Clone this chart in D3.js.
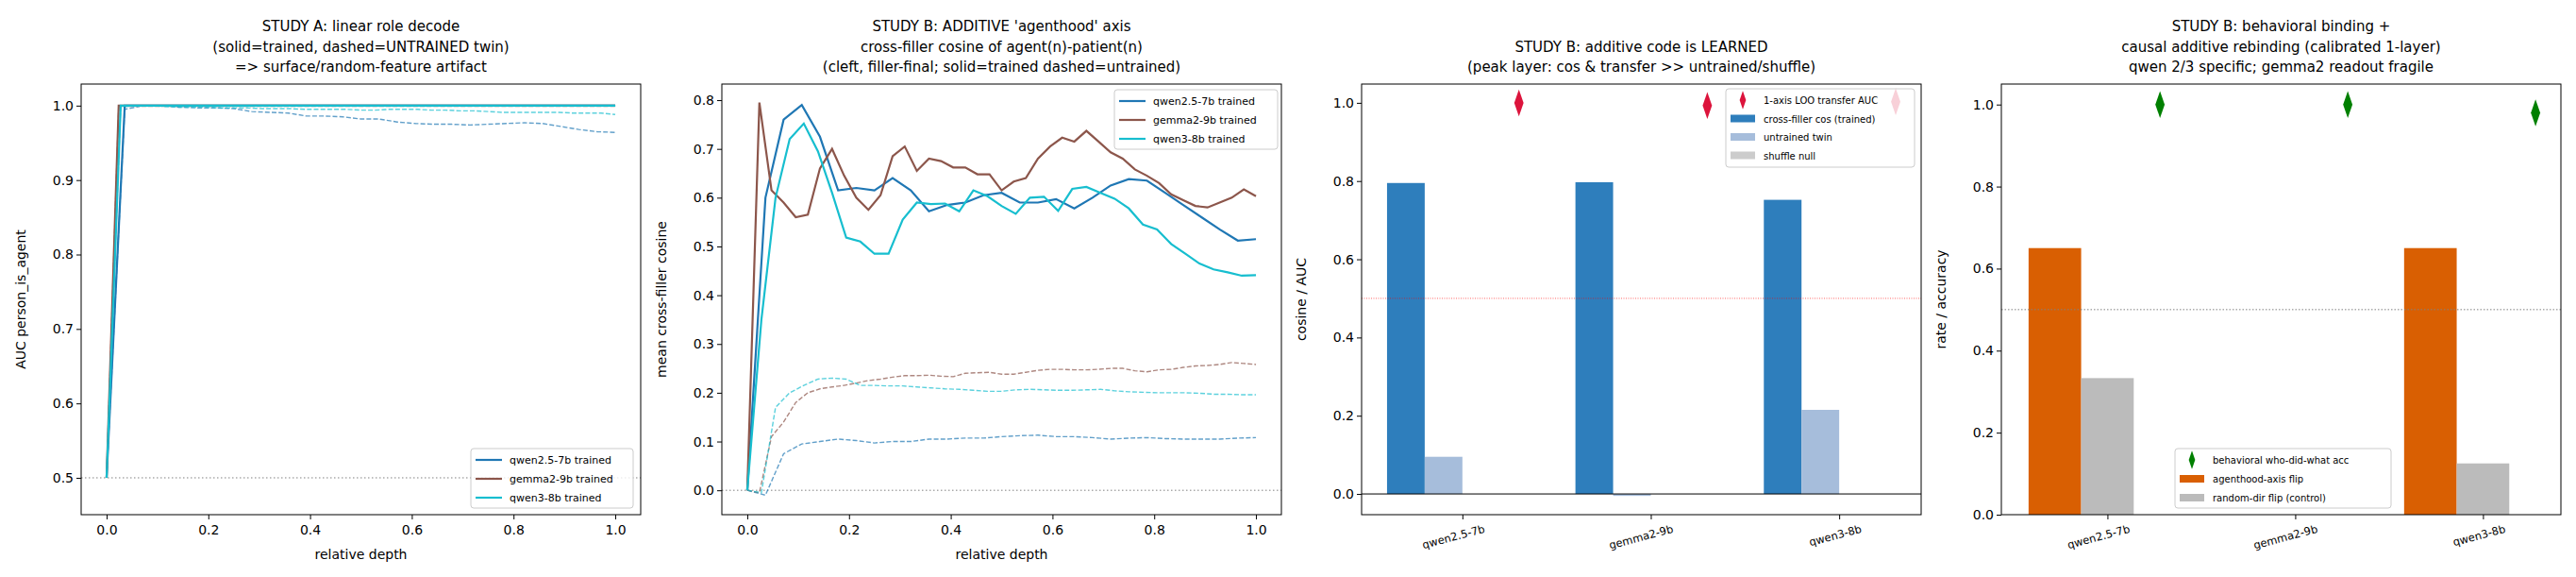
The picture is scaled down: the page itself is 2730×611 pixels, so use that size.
<!DOCTYPE html>
<html><head><meta charset="utf-8">
<script src="https://cdn.jsdelivr.net/npm/d3@7"></script>
<style>body{margin:0;background:#fff;font-family:"DejaVu Sans",sans-serif}</style>
</head><body><svg id="canvas" width="2730" height="611"></svg>
<script>
// ---- data ----
let models = ['qwen2.5-7b', 'gemma2-9b', 'qwen3-8b']
let lineColors = ['#1f77b4', '#8c564b', '#17becf']
let nLayers = [28, 42, 36]

// study A: AUC per layer
let aucTrained = [
  [0.5].concat(Array(28).fill(1.0)),
  [0.5].concat(Array(42).fill(1.0)),
  [0.5].concat(Array(36).fill(1.0))
]
let aucUntrained = [
  [0.5,0.995,1.0,1.0,0.998,0.997,0.997,0.996,0.992,0.991,0.99,0.986,0.986,0.985,0.982,0.982,0.978,0.976,0.975,0.975,0.974,0.975,0.976,0.977,0.976,0.972,0.968,0.965,0.964],
  [0.5].concat(Array(42).fill(0.999)),
  [0.5,0.998,1.0,1.0,0.999,0.998,0.998,0.998,0.997,0.997,0.997,0.996,0.996,0.996,0.995,0.995,0.995,0.995,0.994,0.994,0.995,0.995,0.995,0.994,0.994,0.993,0.993,0.992,0.991,0.991,0.991,0.991,0.991,0.99,0.99,0.99,0.988]
]

// study B: cross-filler cosine per layer
let cosTrained = [
  [0,0.60,0.76,0.79,0.725,0.615,0.62,0.615,0.64,0.615,0.572,0.585,0.59,0.605,0.61,0.59,0.59,0.597,0.578,0.6,0.625,0.638,0.635,0.61,0.585,0.56,0.535,0.512,0.515],
  [0,0.795,0.615,0.59,0.56,0.565,0.66,0.70,0.645,0.60,0.575,0.605,0.685,0.705,0.655,0.68,0.675,0.662,0.662,0.648,0.648,0.615,0.633,0.64,0.68,0.705,0.723,0.715,0.737,0.715,0.693,0.68,0.658,0.645,0.63,0.607,0.595,0.583,0.58,0.59,0.60,0.617,0.603],
  [0,0.35,0.60,0.72,0.752,0.695,0.61,0.518,0.51,0.485,0.485,0.555,0.59,0.587,0.588,0.572,0.615,0.603,0.583,0.567,0.6,0.602,0.573,0.618,0.622,0.61,0.598,0.578,0.545,0.535,0.505,0.485,0.465,0.453,0.447,0.44,0.441]
]
let cosUntrained = [
  [0,-0.01,0.075,0.095,0.1,0.105,0.102,0.097,0.1,0.1,0.105,0.105,0.107,0.107,0.11,0.112,0.113,0.11,0.11,0.108,0.105,0.107,0.108,0.106,0.105,0.105,0.105,0.107,0.108],
  [0,-0.005,0.11,0.14,0.18,0.2,0.208,0.212,0.215,0.22,0.225,0.228,0.232,0.235,0.235,0.236,0.234,0.233,0.24,0.241,0.242,0.238,0.238,0.242,0.246,0.248,0.248,0.247,0.247,0.248,0.25,0.25,0.245,0.243,0.247,0.248,0.252,0.255,0.256,0.258,0.262,0.26,0.258],
  [0,-0.005,0.17,0.2,0.215,0.228,0.23,0.228,0.215,0.215,0.214,0.214,0.212,0.21,0.208,0.207,0.205,0.203,0.203,0.206,0.207,0.206,0.205,0.205,0.206,0.207,0.204,0.202,0.201,0.2,0.2,0.2,0.199,0.197,0.197,0.196,0.196]
]

// study B peak layer
let peakCosTrained = [0.795, 0.797, 0.752]
let peakCosUntrained = [0.095, -0.005, 0.215]
let peakShuffle = [0.0, 0.0, 0.0]
let looTransfer = [1.0, 0.993, 1.003]

// study B behavioral
let axisFlip = [0.65, 0.0, 0.65]
let randomFlip = [0.333, 0.0, 0.125]
let behavAcc = [1.0, 1.0, 0.98]

// ---- drawing ----
let canvas = d3.select('#canvas')
let plotTop = 89, plotBottom = 545, W = 593
let lefts = [86, 765, 1443, 2121]

let frame = (g, x0, x1) => {
  g.append('rect').attr('x', x0).attr('y', plotTop).attr('width', x1 - x0).attr('height', plotBottom - plotTop)
   .attr('fill', 'none').attr('stroke', '#000').attr('stroke-width', 1)
}
let title = (g, cx, lines) => {
  let t = g.append('text').attr('text-anchor', 'middle').attr('font-size', 15)
  let start = 71 - (lines.length - 1) * 21.5
  lines.forEach((l, i) => t.append('tspan').attr('x', cx).attr('y', start + i * 21.5 + 5).text(l))
}
let yAxis = (g, x, y, ticks, fmt, label) => {
  let a = g.append('g').attr('transform', `translate(${x},0)`)
   .call(d3.axisLeft(y).tickValues(ticks).tickFormat(fmt).tickSizeOuter(0).tickSize(5))
  a.select('.domain').remove()
  a.selectAll('text').attr('font-size', 14).attr('font-family', 'DejaVu Sans')
  g.append('text').attr('transform', `translate(${x - 59},${(plotTop + plotBottom) / 2}) rotate(-90)`)
   .attr('text-anchor', 'middle').attr('font-size', 14).text(label)
}
let xAxisNum = (g, x) => {
  let a = g.append('g').attr('transform', `translate(0,${plotBottom})`)
   .call(d3.axisBottom(x).tickValues([0, 0.2, 0.4, 0.6, 0.8, 1.0]).tickFormat(d3.format('.1f')).tickSize(5))
  a.select('.domain').remove()
  a.selectAll('text').attr('font-size', 14).attr('font-family', 'DejaVu Sans').attr('dy', '0.9em')
  g.append('text').attr('x', (x.range()[0] + x.range()[1]) / 2).attr('y', 592)
   .attr('text-anchor', 'middle').attr('font-size', 14).text('relative depth')
}
let legendBox = (g, x, y, w, h) => {
  g.append('rect').attr('x', x).attr('y', y).attr('width', w).attr('height', h).attr('rx', 3)
   .attr('fill', 'rgba(255,255,255,0.8)').attr('stroke', '#ccc')
}
let lineLegend = (g, x, y, w) => {
  legendBox(g, x, y, w, 63)
  models.forEach((m, i) => {
    let yy = y + 12 + i * 20
    g.append('line').attr('x1', x + 5).attr('x2', x + 33).attr('y1', yy).attr('y2', yy)
     .attr('stroke', lineColors[i]).attr('stroke-width', 2.2)
    g.append('text').attr('x', x + 41).attr('y', yy + 4).attr('font-size', 11).text(m + ' trained')
  })
}
let drawLines = (g, x, y, data, dashed) => {
  data.forEach((arr, i) => {
    let line = d3.line().x((d, j) => x(j / nLayers[i])).y(d => y(d))
    g.append('path').attr('d', line(arr)).attr('fill', 'none').attr('stroke', lineColors[i])
     .attr('stroke-width', dashed ? 1.4 : 2.2).attr('opacity', dashed ? 0.7 : 1)
     .attr('stroke-dasharray', dashed ? '5,2.2' : null)
  })
}

// panel A
{
  let g = canvas.append('g'), L = lefts[0]
  let x = d3.scaleLinear().domain([-0.05, 1.05]).range([L, L + W])
  let y = d3.scaleLinear().domain([0.4505, 1.029]).range([plotBottom, plotTop])
  g.append('line').attr('x1', L).attr('x2', L + W).attr('y1', y(0.5)).attr('y2', y(0.5))
   .attr('stroke', 'gray').attr('stroke-dasharray', '1.5,2.5')
  drawLines(g, x, y, aucUntrained, true)
  drawLines(g, x, y, aucTrained, false)
  frame(g, L, L + W)
  yAxis(g, L, y, [0.5, 0.6, 0.7, 0.8, 0.9, 1.0], d3.format('.1f'), 'AUC person_is_agent')
  xAxisNum(g, x)
  title(g, L + W / 2, ['STUDY A: linear role decode', '(solid=trained, dashed=UNTRAINED twin)', '=> surface/random-feature artifact'])
  lineLegend(g, 499, 475, 172)
}

// panel B lines
{
  let g = canvas.append('g'), L = lefts[1]
  let x = d3.scaleLinear().domain([-0.05, 1.05]).range([L, L + W])
  let y = d3.scaleLinear().domain([-0.05, 0.833]).range([plotBottom, plotTop])
  g.append('line').attr('x1', L).attr('x2', L + W).attr('y1', y(0)).attr('y2', y(0))
   .attr('stroke', 'gray').attr('stroke-dasharray', '1.5,2.5')
  drawLines(g, x, y, cosUntrained, true)
  drawLines(g, x, y, cosTrained, false)
  frame(g, L, L + W)
  yAxis(g, L, y, d3.range(0, 0.81, 0.1), d3.format('.1f'), 'mean cross-filler cosine')
  xAxisNum(g, x)
  title(g, L + W / 2, ["STUDY B: ADDITIVE 'agenthood' axis", 'cross-filler cosine of agent(n)-patient(n)', '(cleft, filler-final; solid=trained dashed=untrained)'])
  lineLegend(g, 1181, 95, 173)
}

let diamond = d3.symbol().type(d3.symbolDiamond).size(150)
let catAxis = (g, x) => {
  let a = g.append('g').attr('transform', `translate(0,${plotBottom})`)
   .call(d3.axisBottom(x).tickValues([0, 1, 2]).tickFormat(i => models[i]).tickSize(5))
  a.select('.domain').remove()
  a.selectAll('text').attr('font-size', 11.5).attr('font-family', 'DejaVu Sans')
   .attr('text-anchor', 'end').attr('dx', '1.6em').attr('dy', '1.4em').attr('transform', 'rotate(-15)')
}

// panel C
{
  let g = canvas.append('g'), L = lefts[2]
  let x = d3.scaleLinear().domain([-0.535, 2.435]).range([L, L + W])
  let y = d3.scaleLinear().domain([-0.053, 1.048]).range([plotBottom, plotTop])
  let bw = x(0.2) - x(0)
  let groups = [[peakCosTrained, '#2e7ebc', -0.3], [peakCosUntrained, '#a6bddb', -0.1], [peakShuffle, '#cccccc', 0.1]]
  groups.forEach(([vals, col, off]) => {
    g.selectAll(null).data(vals).enter().append('rect')
     .attr('x', (d, i) => x(i + off) - bw / 2).attr('width', bw)
     .attr('y', d => y(Math.max(d, 0))).attr('height', d => Math.abs(y(d) - y(0))).attr('fill', col)
  })
  g.append('line').attr('x1', L).attr('x2', L + W).attr('y1', y(0)).attr('y2', y(0)).attr('stroke', '#000').attr('stroke-width', 1)
  g.append('line').attr('x1', L).attr('x2', L + W).attr('y1', y(0.5)).attr('y2', y(0.5))
   .attr('stroke', 'red').attr('opacity', 0.6).attr('stroke-dasharray', '1,1.5')
  g.selectAll(null).data(looTransfer).enter().append('path').attr('d', diamond)
   .attr('transform', (d, i) => `translate(${x(i + 0.3)},${y(d)}) scale(0.75,1.25)`).attr('fill', 'crimson')
  frame(g, L, L + W)
  yAxis(g, L, y, [0, 0.2, 0.4, 0.6, 0.8, 1.0], d3.format('.1f'), 'cosine / AUC')
  catAxis(g, x)
  title(g, L + W / 2, ['STUDY B: additive code is LEARNED', '(peak layer: cos & transfer >> untrained/shuffle)'])
  let lx = 1829, ly = 94
  legendBox(g, lx, ly, 200, 83)
  let items = [['1-axis LOO transfer AUC', 'crimson', 'd'], ['cross-filler cos (trained)', '#2e7ebc', 'r'], ['untrained twin', '#a6bddb', 'r'], ['shuffle null', '#cccccc', 'r']]
  items.forEach(([t, c, k], i) => {
    let yy = ly + 12 + i * 19.5
    if (k === 'd') g.append('path').attr('d', d3.symbol().type(d3.symbolDiamond).size(70)).attr('transform', `translate(${lx + 18},${yy}) scale(0.75,1.25)`).attr('fill', c)
    else g.append('rect').attr('x', lx + 5).attr('y', yy - 4).attr('width', 26).attr('height', 8).attr('fill', c)
    g.append('text').attr('x', lx + 40).attr('y', yy + 4).attr('font-size', 10).text(t)
  })
}

// panel D
{
  let g = canvas.append('g'), L = lefts[3]
  let x = d3.scaleLinear().domain([-0.565, 2.415]).range([L, L + W])
  let y = d3.scaleLinear().domain([0, 1.05]).range([plotBottom, plotTop])
  let bw = x(0.28) - x(0)
  let groups = [[axisFlip, '#d95f02', -0.28], [randomFlip, '#bbbbbb', 0]]
  groups.forEach(([vals, col, off]) => {
    g.selectAll(null).data(vals).enter().append('rect')
     .attr('x', (d, i) => x(i + off) - bw / 2).attr('width', bw)
     .attr('y', d => y(d)).attr('height', d => y(0) - y(d)).attr('fill', col)
  })
  g.append('line').attr('x1', L).attr('x2', L + W).attr('y1', y(0.5)).attr('y2', y(0.5))
   .attr('stroke', 'gray').attr('stroke-dasharray', '1.5,2')
  g.selectAll(null).data(behavAcc).enter().append('path').attr('d', diamond)
   .attr('transform', (d, i) => `translate(${x(i + 0.28)},${y(d)}) scale(0.75,1.25)`).attr('fill', 'green')
  frame(g, L, L + W)
  yAxis(g, L, y, [0, 0.2, 0.4, 0.6, 0.8, 1.0], d3.format('.1f'), 'rate / accuracy')
  catAxis(g, x)
  title(g, L + W / 2, ['STUDY B: behavioral binding +', 'causal additive rebinding (calibrated 1-layer)', 'qwen 2/3 specific; gemma2 readout fragile'])
  let lx = 2305, ly = 475
  legendBox(g, lx, ly, 229, 63)
  let items = [['behavioral who-did-what acc', 'green', 'd'], ['agenthood-axis flip', '#d95f02', 'r'], ['random-dir flip (control)', '#bbbbbb', 'r']]
  items.forEach(([t, c, k], i) => {
    let yy = ly + 12 + i * 20
    if (k === 'd') g.append('path').attr('d', d3.symbol().type(d3.symbolDiamond).size(70)).attr('transform', `translate(${lx + 18},${yy}) scale(0.75,1.25)`).attr('fill', c)
    else g.append('rect').attr('x', lx + 5).attr('y', yy - 4).attr('width', 26).attr('height', 8).attr('fill', c)
    g.append('text').attr('x', lx + 40).attr('y', yy + 4).attr('font-size', 10).text(t)
  })
}
</script></body></html>
